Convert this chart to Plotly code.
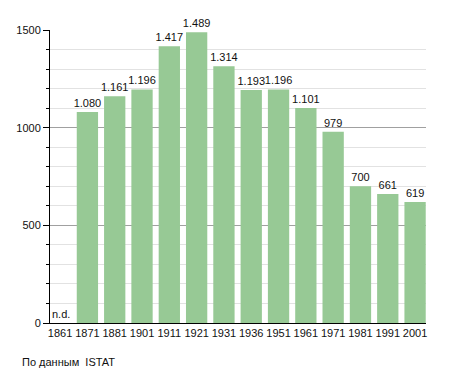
import plotly.graph_objects as go

years = ["1861", "1871", "1881", "1901", "1911", "1921", "1931", "1936", "1951", "1961", "1971", "1981", "1991", "2001"]
population = [None, 1080, 1161, 1196, 1417, 1489, 1314, 1193, 1196, 1101, 979, 700, 661, 619]
labels = ["" if v is None else (f"{v:,}".replace(",", ".")) for v in population]

fig = go.Figure()
fig.add_trace(go.Bar(
    x=years, y=population, text=labels, textposition="outside", constraintext="none",
    textfont=dict(family="Liberation Sans, Arial", size=11, color="#111"),
    marker=dict(color="#97C995", line=dict(width=0)),
    width=0.78, cliponaxis=False, hoverinfo="skip",
))
fig.add_annotation(x=0, y=0, xref="x", yref="y", text="n.d.", showarrow=False,
                   xanchor="left", yanchor="bottom", xshift=-10, yshift=1,
                   font=dict(family="Liberation Sans, Arial", size=11, color="#111"))
fig.add_annotation(xref="paper", yref="paper", x=-30/376, y=-(362-323)/293,
                   text="По данным  ISTAT", showarrow=False, xanchor="left", yanchor="middle",
                   font=dict(family="Liberation Sans, Arial", size=11, color="#111"))

fig.update_layout(
    width=455, height=373, margin=dict(l=50, r=29, t=30, b=50, autoexpand=False),
    paper_bgcolor="white", plot_bgcolor="white", showlegend=False,
    font=dict(family="Liberation Sans, Arial", size=11, color="#111"),
    bargap=0.2,
)
fig.update_xaxes(type="category", range=[-0.37, 13.4], showgrid=False, ticks="",
                 showline=True, linecolor="#000", linewidth=1, automargin=False,
                 tickfont=dict(size=11))
fig.update_yaxes(range=[0, 1500], tickvals=[0, 500, 1000, 1500], ticktext=["0", "500", "1000", "1500"],
                 showgrid=True, gridcolor="#a0a0a0", gridwidth=1, automargin=False,
                 ticks="outside", ticklen=6, tickcolor="#000",
                 showline=True, linecolor="#000", linewidth=1, zeroline=False,
                 minor=dict(dtick=100, ticks="outside", ticklen=3, tickcolor="#000",
                            showgrid=True, gridcolor="#e2e2e2", gridwidth=1),
                 tickfont=dict(size=11))

fig.write_html("out.html", config={"displayModeBar": False},
               post_script="document.body.style.margin='0';document.body.style.overflow='hidden';")
